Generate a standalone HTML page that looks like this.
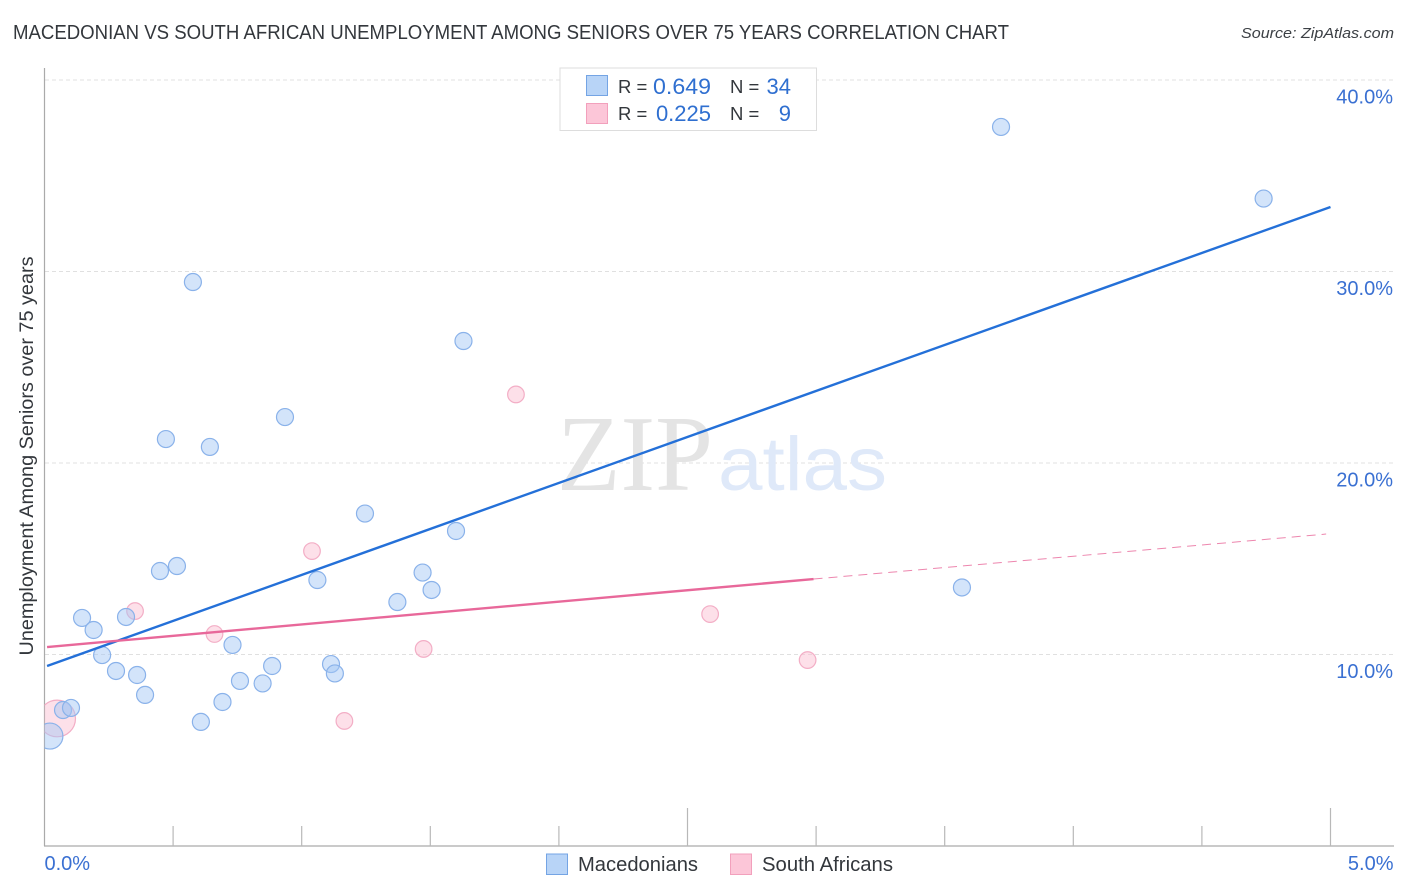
<!DOCTYPE html>
<html lang="en">
<head>
<meta charset="utf-8">
<title>Macedonian vs South African Unemployment Among Seniors Over 75 Years Correlation Chart</title>
<style>
html,body{margin:0;padding:0;background:#fff;width:1406px;height:892px;overflow:hidden}
svg{display:block;font-family:"Liberation Sans",Arial,sans-serif}
</style>
</head>
<body>
<svg id="chart" xmlns="http://www.w3.org/2000/svg" width="1406" height="892" viewBox="0 0 1406 892">
  <defs>
    <clipPath id="plot-clip"><rect x="44.5" y="60" width="1350" height="786"/></clipPath>
  </defs>
  <rect x="0" y="0" width="1406" height="892" fill="#ffffff"/>
  <text x="13" y="39" font-size="20" fill="#33373c" textLength="996" lengthAdjust="spacingAndGlyphs">MACEDONIAN VS SOUTH AFRICAN UNEMPLOYMENT AMONG SENIORS OVER 75 YEARS CORRELATION CHART</text>
  <text x="1394" y="38" font-size="15" font-style="italic" fill="#3c4045" text-anchor="end" textLength="153" lengthAdjust="spacingAndGlyphs">Source: ZipAtlas.com</text>

  <g id="grid-layer"></g>

  <g>
    <text x="557" y="490" font-family="'Liberation Serif',serif" font-size="108" fill="#e4e4e4" textLength="156" lengthAdjust="spacingAndGlyphs">ZIP</text>
    <text x="718" y="490" font-size="76" fill="#dfe9f9" textLength="169" lengthAdjust="spacingAndGlyphs">atlas</text>
  </g>

  <g id="axis-layer"></g>
  <g id="point-layer" clip-path="url(#plot-clip)"></g>
  <g id="trend-layer"></g>
  <g id="label-layer"></g>

  <text transform="translate(33,456) rotate(-90)" font-size="19" fill="#33373c" text-anchor="middle" textLength="399" lengthAdjust="spacingAndGlyphs">Unemployment Among Seniors over 75 years</text>

  <g>
    <rect x="560" y="68" width="256.5" height="62.5" fill="#ffffff" stroke="#dddddd" stroke-width="1"/>
    <rect x="586.5" y="75.5" width="21" height="20" fill="#b8d4f7" stroke="#74a4e4" stroke-width="1"/>
    <rect x="586.5" y="103.5" width="21" height="20" fill="#fcc6d8" stroke="#f2a0bc" stroke-width="1"/>
    <text x="618" y="93" font-size="18.5" fill="#33373c">R =</text>
    <text x="711" y="94" font-size="22" fill="#2f6fd0" text-anchor="end" textLength="58" lengthAdjust="spacingAndGlyphs">0.649</text>
    <text x="730" y="93" font-size="18.5" fill="#33373c">N =</text>
    <text x="791" y="94" font-size="22" fill="#2f6fd0" text-anchor="end">34</text>
    <text x="618" y="120" font-size="18.5" fill="#33373c">R =</text>
    <text x="711" y="121" font-size="22" fill="#2f6fd0" text-anchor="end">0.225</text>
    <text x="730" y="120" font-size="18.5" fill="#33373c">N =</text>
    <text x="791" y="121" font-size="22" fill="#2f6fd0" text-anchor="end">9</text>
  </g>

  <g>
    <rect x="546.5" y="854" width="21" height="20.5" fill="#b8d4f7" stroke="#74a4e4" stroke-width="1"/>
    <text x="578" y="871" font-size="20" fill="#33373c" textLength="120" lengthAdjust="spacingAndGlyphs">Macedonians</text>
    <rect x="730.5" y="854" width="21" height="20.5" fill="#fcc6d8" stroke="#f2a0bc" stroke-width="1"/>
    <text x="762" y="871" font-size="20" fill="#33373c" textLength="131" lengthAdjust="spacingAndGlyphs">South Africans</text>
  </g>
</svg>
<script>
// Chart data (percent units)
const yTicks = [10, 20, 30, 40];
const yTickLabels = ['10.0%', '20.0%', '30.0%', '40.0%'];
const xTickValues = [0.5, 1, 1.5, 2, 2.5, 3, 3.5, 4, 4.5, 5];
const xMajorTicks = [2.5, 5];
const xEndLabels = ['0.0%', '5.0%'];
const xEndValues = [0, 5];

const macedonianX = [0.021,0.072,0.103,0.146,0.191,0.224,0.278,0.360,0.391,0.317,0.449,0.515,0.472,0.577,0.643,0.608,0.692,0.731,0.760,0.848,0.885,0.935,1.061,1.114,1.129,1.246,1.372,1.470,1.505,1.600,1.629,3.567,3.719,4.740];
const macedonianY = [5.74,7.10,7.21,11.91,11.28,9.97,9.14,8.93,7.89,11.96,14.36,14.62,21.25,29.45,20.84,6.48,7.52,10.50,8.62,8.49,9.40,22.40,13.89,9.50,9.01,17.36,12.74,14.28,13.37,16.45,26.37,13.50,37.55,33.81];
const macedonianWeight = [2.34,1,1,1,1,1,1,1,1,1,1,1,1,1,1,1,1,1,1,1,1,1,1,1,1,1,1,1,1,1,1,1,1,1];

const southAfricanX = [0.049,0.352,0.661,1.040,1.166,1.474,1.833,2.588,2.967];
const southAfricanY = [6.66,12.27,11.07,15.40,6.53,10.29,23.58,12.11,9.71];
const southAfricanWeight = [4.9,1,1,1,1,1,1,1,1];

const macedonianTrendX = [0.01, 5];
const macedonianTrendY = [9.40, 33.37];
const southAfricanTrendX = [0.01, 2.99];
const southAfricanTrendY = [10.39, 13.94];
const southAfricanExtendX = [2.99, 4.983];
const southAfricanExtendY = [13.94, 16.29];

// Axis functions
const sx = v => 44.5 + v * 257.2;
const sy = v => 846 - v * 19.15;
const rScale = (base, w) => base * Math.sqrt(w);
const NS = 'http://www.w3.org/2000/svg';
function make(tag, parent, attrs) {
  const el = document.createElementNS(NS, tag);
  for (const k in attrs) el.setAttribute(k, attrs[k]);
  parent.appendChild(el);
  return el;
}
const gridLayer = document.getElementById('grid-layer');
const axisLayer = document.getElementById('axis-layer');
const pointLayer = document.getElementById('point-layer');
const trendLayer = document.getElementById('trend-layer');
const labelLayer = document.getElementById('label-layer');

// Gridlines and y labels
yTicks.forEach((t, i) => {
  const g = make('line', gridLayer, {x1: 45, x2: 1393, y1: sy(t), y2: sy(t), stroke: '#e0e0e0', 'stroke-width': 1, 'stroke-dasharray': '4 3'});
  
  
  const l = make('text', labelLayer, {x: 1393, y: sy(t) + 23.5, 'font-size': 20, fill: '#3a70d2', 'text-anchor': 'end'});
  l.textContent = yTickLabels[i];
  
  
});

// Axes and ticks
const yAxis = make('line', axisLayer, {x1: 44.5, x2: 44.5, y1: 68, y2: 846, stroke: '#aaaaaa', 'stroke-width': 1.2});


const xAxis = make('line', axisLayer, {x1: 44, x2: 1394, y1: 846, y2: 846, stroke: '#aaaaaa', 'stroke-width': 1.2});


xTickValues.forEach(t => {
  const top = xMajorTicks.includes(t) ? 808 : 826;
  const k = make('line', axisLayer, {x1: sx(t), x2: sx(t), y1: top, y2: 846, stroke: '#b8b8b8', 'stroke-width': 1.2});
  
  
});
xEndValues.forEach((t, i) => {
  const px = i === 0 ? sx(t) : 1393.5;
  const l = make('text', labelLayer, {x: px, y: 870, 'font-size': 20, fill: '#3a70d2', 'text-anchor': i === 0 ? 'start' : 'end'});
  l.textContent = xEndLabels[i];
  
  
});

// Points: pink first so the blue rings sit on top, as in the reference
southAfricanX.forEach((x, i) => {
  const c = make('circle', pointLayer, {cx: sx(x), cy: sy(southAfricanY[i]), r: rScale(8.3, southAfricanWeight[i]), fill: 'rgba(250,190,210,0.48)', stroke: '#f3aec6', 'stroke-width': 1.2});
  
  
});
macedonianX.forEach((x, i) => {
  const c = make('circle', pointLayer, {cx: sx(x), cy: sy(macedonianY[i]), r: rScale(8.5, macedonianWeight[i]), fill: 'rgba(163,198,245,0.48)', stroke: '#8ab2ea', 'stroke-width': 1.2});
  
  
});

// Trend lines
const blueLine = make('line', trendLayer, {x1: sx(macedonianTrendX[0]), y1: sy(macedonianTrendY[0]), x2: sx(macedonianTrendX[1]), y2: sy(macedonianTrendY[1]), stroke: '#2470d8', 'stroke-width': 2.4});


const pinkLine = make('line', trendLayer, {x1: sx(southAfricanTrendX[0]), y1: sy(southAfricanTrendY[0]), x2: sx(southAfricanTrendX[1]), y2: sy(southAfricanTrendY[1]), stroke: '#e8689a', 'stroke-width': 2.4});


const pinkExt = make('line', trendLayer, {x1: sx(southAfricanExtendX[0]), y1: sy(southAfricanExtendY[0]), x2: sx(southAfricanExtendX[1]), y2: sy(southAfricanExtendY[1]), stroke: '#e8689a', 'stroke-width': 1, 'stroke-dasharray': '9 6', 'stroke-opacity': 0.8});


</script>
</body>
</html>
